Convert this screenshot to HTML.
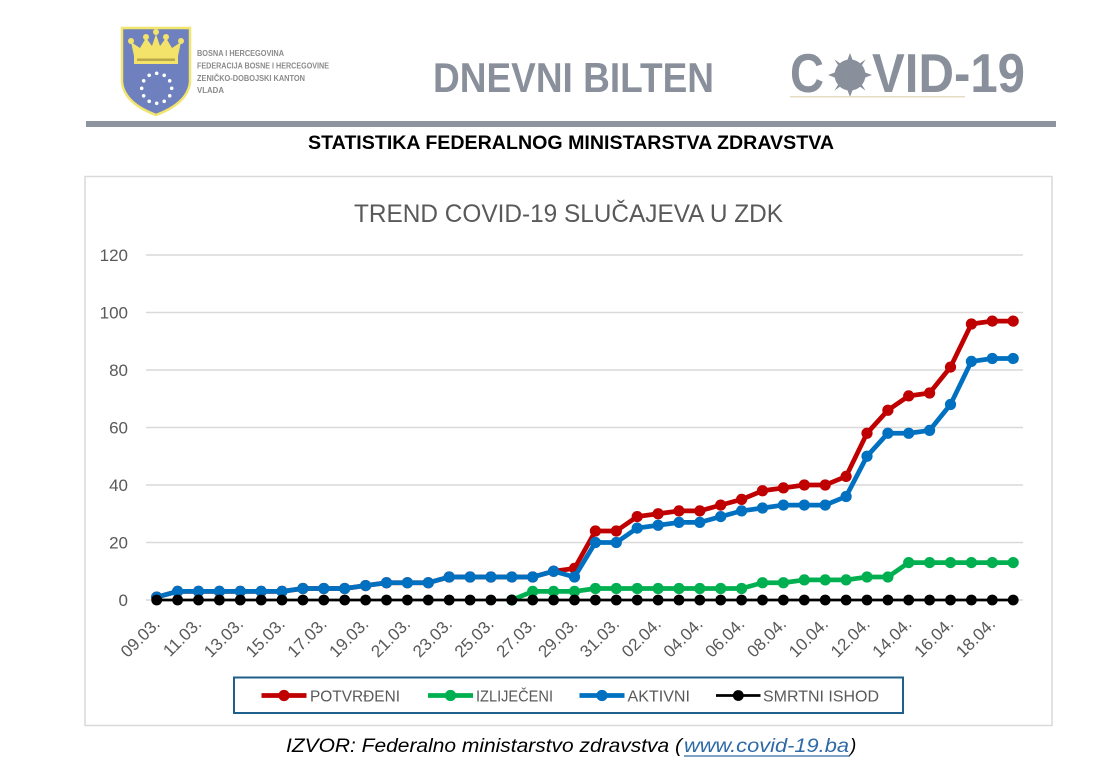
<!DOCTYPE html>
<html>
<head>
<meta charset="utf-8">
<style>
html,body{margin:0;padding:0;background:#fff;}
svg{display:block;}
text{font-family:"Liberation Sans",Arial,sans-serif;}
</style>
</head>
<body>
<svg width="1094" height="773" viewBox="0 0 1094 773" xmlns="http://www.w3.org/2000/svg">
<defs>
  <marker id="mr" markerUnits="userSpaceOnUse" markerWidth="14" markerHeight="14" refX="7" refY="7"><circle cx="7" cy="7" r="5.6" fill="#c00000"/></marker>
  <marker id="mg" markerUnits="userSpaceOnUse" markerWidth="14" markerHeight="14" refX="7" refY="7"><circle cx="7" cy="7" r="5.6" fill="#00b050"/></marker>
  <marker id="mb" markerUnits="userSpaceOnUse" markerWidth="14" markerHeight="14" refX="7" refY="7"><circle cx="7" cy="7" r="5.6" fill="#0070c0"/></marker>
  <marker id="mk" markerUnits="userSpaceOnUse" markerWidth="14" markerHeight="14" refX="7" refY="7"><circle cx="7" cy="7" r="5.4" fill="#000"/></marker>
</defs>
<rect width="1094" height="773" fill="#fff"/>

<!-- Header: shield -->
<path d="M122,28 L190,28 L190,82 Q188,103 156,115 Q124,103 122,82 Z" fill="#6e80bd" stroke="#f2e56e" stroke-width="2.5"/>
<g fill="#f3e36a">
  <rect x="134" y="56" width="44" height="8"/>
  <path d="M134,56 L131,42 L140,48 L146,38 L152,46 L156,34 L160,46 L166,38 L172,48 L181,42 L178,56 Z"/>
  <circle cx="131" cy="41" r="3"/><circle cx="146" cy="37" r="3"/><circle cx="156" cy="32" r="3"/><circle cx="166" cy="37" r="3"/><circle cx="181" cy="41" r="3"/>
</g>
<rect x="137" y="58.5" width="38" height="2.5" fill="#b8a84a"/>
<g fill="#ffffff">
  <circle cx="156.7" cy="73.3" r="1.8"/><circle cx="164.2" cy="75.3" r="1.8"/><circle cx="169.7" cy="80.8" r="1.8"/><circle cx="171.7" cy="88.3" r="1.8"/><circle cx="169.7" cy="95.8" r="1.8"/><circle cx="164.2" cy="101.3" r="1.8"/><circle cx="156.7" cy="103.3" r="1.8"/><circle cx="149.2" cy="101.3" r="1.8"/><circle cx="143.7" cy="95.8" r="1.8"/><circle cx="141.7" cy="88.3" r="1.8"/><circle cx="143.7" cy="80.8" r="1.8"/><circle cx="149.2" cy="75.3" r="1.8"/>
</g>
<g font-weight="bold" font-size="8" fill="#8a8a8a">
  <text x="197" y="56" textLength="87" lengthAdjust="spacingAndGlyphs">BOSNA I HERCEGOVINA</text>
  <text x="197" y="68.5" textLength="132" lengthAdjust="spacingAndGlyphs">FEDERACIJA BOSNE  I HERCEGOVINE</text>
  <text x="197" y="81" textLength="108" lengthAdjust="spacingAndGlyphs">ZENIČKO-DOBOJSKI KANTON</text>
  <text x="197" y="93" textLength="27" lengthAdjust="spacingAndGlyphs">VLADA</text>
</g>
<text x="433" y="92" font-size="42" font-weight="bold" fill="#8a909b" textLength="281" lengthAdjust="spacingAndGlyphs">DNEVNI BILTEN</text>
<text x="790" y="92" font-size="55" font-weight="bold" fill="#8a909b" textLength="34" lengthAdjust="spacingAndGlyphs">C</text>
<g fill="#8a909b">
  <circle cx="850" cy="75" r="15.5"/>
  <path d="M850,53 L853,61 L847,61 Z"/>
  <path d="M850,97 L853,89 L847,89 Z"/>
  <path d="M828,75 L836,72 L836,78 Z"/>
  <path d="M872,75 L864,72 L864,78 Z"/>
  <path d="M834.4,59.4 L841,64 L838.8,66.4 Z"/>
  <path d="M865.6,59.4 L859,64 L861.2,66.4 Z"/>
  <path d="M834.4,90.6 L841,86 L838.8,83.6 Z"/>
  <path d="M865.6,90.6 L859,86 L861.2,83.6 Z"/>
</g>
<text x="872" y="92" font-size="55" font-weight="bold" fill="#8a909b" textLength="153" lengthAdjust="spacingAndGlyphs">VID-19</text>
<line x1="790" y1="96.8" x2="965" y2="96.8" stroke="#e6dcc3" stroke-width="1.5"/>

<rect x="86" y="121" width="970" height="6" fill="#8e949f"/>
<text x="308" y="149" font-size="19" font-weight="bold" fill="#000" textLength="526" lengthAdjust="spacingAndGlyphs">STATISTIKA FEDERALNOG MINISTARSTVA ZDRAVSTVA</text>

<rect x="85" y="176.5" width="967" height="549" fill="#fff" stroke="#d9d9d9" stroke-width="1.5"/>
<text x="354" y="222" font-size="25" fill="#595959" textLength="429" lengthAdjust="spacingAndGlyphs">TREND COVID-19 SLUČAJEVA U ZDK</text>

<g stroke="#d9d9d9" stroke-width="1.5">
  <line x1="146" y1="255" x2="1023" y2="255"/>
  <line x1="146" y1="312.5" x2="1023" y2="312.5"/>
  <line x1="146" y1="370" x2="1023" y2="370"/>
  <line x1="146" y1="427.5" x2="1023" y2="427.5"/>
  <line x1="146" y1="485" x2="1023" y2="485"/>
  <line x1="146" y1="542.5" x2="1023" y2="542.5"/>
  <line x1="146" y1="600" x2="1023" y2="600"/>
</g>
<g font-size="17" fill="#595959" text-anchor="end">
  <text x="128" y="261">120</text>
  <text x="128" y="318.5">100</text>
  <text x="128" y="376">80</text>
  <text x="128" y="433.5">60</text>
  <text x="128" y="491">40</text>
  <text x="128" y="548.5">20</text>
  <text x="128" y="606">0</text>
</g>

<polyline fill="none" stroke="#c00000" stroke-width="4.7" stroke-linejoin="round" marker-start="url(#mr)" marker-mid="url(#mr)" marker-end="url(#mr)" points="156.7,597.1 177.6,591.4 198.5,591.4 219.4,591.4 240.3,591.4 261.2,591.4 282.0,591.4 302.9,588.5 323.8,588.5 344.7,588.5 365.6,585.6 386.5,582.75 407.4,582.75 428.3,582.75 449.2,577 470.1,577 490.9,577 511.8,577 532.7,577 553.6,571.25 574.5,568.4 595.4,531 616.3,531 637.2,516.6 658.1,513.75 679.0,510.9 699.8,510.9 720.7,505.1 741.6,499.4 762.5,490.75 783.4,487.9 804.3,485 825.2,485 846.1,476.4 867.0,433.25 887.9,410.25 908.7,395.9 929.6,393 950.5,367.1 971.4,324 992.3,321.1 1013.2,321.1"/>
<polyline fill="none" stroke="#00b050" stroke-width="4.7" stroke-linejoin="round" marker-start="url(#mg)" marker-mid="url(#mg)" marker-end="url(#mg)" points="511.8,600 532.7,591.4 553.6,591.4 574.5,591.4 595.4,588.5 616.3,588.5 637.2,588.5 658.1,588.5 679.0,588.5 699.8,588.5 720.7,588.5 741.6,588.5 762.5,582.75 783.4,582.75 804.3,579.9 825.2,579.9 846.1,579.9 867.0,577 887.9,577 908.7,562.6 929.6,562.6 950.5,562.6 971.4,562.6 992.3,562.6 1013.2,562.6"/>
<polyline fill="none" stroke="#0070c0" stroke-width="4.7" stroke-linejoin="round" marker-start="url(#mb)" marker-mid="url(#mb)" marker-end="url(#mb)" points="156.7,597.1 177.6,591.4 198.5,591.4 219.4,591.4 240.3,591.4 261.2,591.4 282.0,591.4 302.9,588.5 323.8,588.5 344.7,588.5 365.6,585.6 386.5,582.75 407.4,582.75 428.3,582.75 449.2,577 470.1,577 490.9,577 511.8,577 532.7,577 553.6,571.25 574.5,577 595.4,542.5 616.3,542.5 637.2,528.1 658.1,525.25 679.0,522.4 699.8,522.4 720.7,516.6 741.6,510.9 762.5,508 783.4,505.1 804.3,505.1 825.2,505.1 846.1,496.5 867.0,456.25 887.9,433.25 908.7,433.25 929.6,430.4 950.5,404.5 971.4,361.4 992.3,358.5 1013.2,358.5"/>
<polyline fill="none" stroke="#000" stroke-width="2.8" marker-start="url(#mk)" marker-mid="url(#mk)" marker-end="url(#mk)" points="156.7,600 177.6,600 198.5,600 219.4,600 240.3,600 261.2,600 282.0,600 302.9,600 323.8,600 344.7,600 365.6,600 386.5,600 407.4,600 428.3,600 449.2,600 470.1,600 490.9,600 511.8,600 532.7,600 553.6,600 574.5,600 595.4,600 616.3,600 637.2,600 658.1,600 679.0,600 699.8,600 720.7,600 741.6,600 762.5,600 783.4,600 804.3,600 825.2,600 846.1,600 867.0,600 887.9,600 908.7,600 929.6,600 950.5,600 971.4,600 992.3,600 1013.2,600"/>

<g font-size="17" fill="#595959" text-anchor="end">
  <text x="161" y="625" transform="rotate(-45 161 625)">09.03.</text>
  <text x="202.5" y="625" transform="rotate(-45 202.5 625)">11.03.</text>
  <text x="244.3" y="625" transform="rotate(-45 244.3 625)">13.03.</text>
  <text x="286" y="625" transform="rotate(-45 286 625)">15.03.</text>
  <text x="327.8" y="625" transform="rotate(-45 327.8 625)">17.03.</text>
  <text x="369.6" y="625" transform="rotate(-45 369.6 625)">19.03.</text>
  <text x="411.4" y="625" transform="rotate(-45 411.4 625)">21.03.</text>
  <text x="453.2" y="625" transform="rotate(-45 453.2 625)">23.03.</text>
  <text x="494.9" y="625" transform="rotate(-45 494.9 625)">25.03.</text>
  <text x="536.7" y="625" transform="rotate(-45 536.7 625)">27.03.</text>
  <text x="578.5" y="625" transform="rotate(-45 578.5 625)">29.03.</text>
  <text x="620.3" y="625" transform="rotate(-45 620.3 625)">31.03.</text>
  <text x="662.1" y="625" transform="rotate(-45 662.1 625)">02.04.</text>
  <text x="703.8" y="625" transform="rotate(-45 703.8 625)">04.04.</text>
  <text x="745.6" y="625" transform="rotate(-45 745.6 625)">06.04.</text>
  <text x="787.4" y="625" transform="rotate(-45 787.4 625)">08.04.</text>
  <text x="829.2" y="625" transform="rotate(-45 829.2 625)">10.04.</text>
  <text x="871" y="625" transform="rotate(-45 871 625)">12.04.</text>
  <text x="912.7" y="625" transform="rotate(-45 912.7 625)">14.04.</text>
  <text x="954.5" y="625" transform="rotate(-45 954.5 625)">16.04.</text>
  <text x="996.3" y="625" transform="rotate(-45 996.3 625)">18.04.</text>
</g>

<rect x="234" y="677.5" width="669" height="35.5" fill="#fff" stroke="#1f5f8b" stroke-width="2"/>
<g stroke-width="4.7">
  <line x1="261.5" y1="695.5" x2="306.5" y2="695.5" stroke="#c00000"/>
  <line x1="428" y1="695.5" x2="473" y2="695.5" stroke="#00b050"/>
  <line x1="579.5" y1="695.5" x2="624.5" y2="695.5" stroke="#0070c0"/>
  <line x1="716" y1="695.5" x2="760.5" y2="695.5" stroke="#000" stroke-width="2.8"/>
</g>
<circle cx="284" cy="695.5" r="5.6" fill="#c00000"/>
<circle cx="450.5" cy="695.5" r="5.6" fill="#00b050"/>
<circle cx="602" cy="695.5" r="5.6" fill="#0070c0"/>
<circle cx="738.3" cy="695.5" r="5.4" fill="#000"/>
<g font-size="16" fill="#595959">
  <text x="310" y="701.5" textLength="90" lengthAdjust="spacingAndGlyphs">POTVRĐENI</text>
  <text x="476" y="701.5" textLength="77" lengthAdjust="spacingAndGlyphs">IZLIJEČENI</text>
  <text x="627.5" y="701.5" textLength="62.5" lengthAdjust="spacingAndGlyphs">AKTIVNI</text>
  <text x="763" y="701.5" textLength="116" lengthAdjust="spacingAndGlyphs">SMRTNI ISHOD</text>
</g>

<text y="752" font-size="19" font-style="italic" fill="#000">
  <tspan x="286" textLength="396" lengthAdjust="spacingAndGlyphs">IZVOR: Federalno ministarstvo zdravstva (</tspan><tspan x="684" fill="#2e6aa8" textLength="165" lengthAdjust="spacingAndGlyphs">www.covid-19.ba</tspan><tspan x="850">)</tspan>
</text>
<line x1="684" y1="756" x2="850" y2="756" stroke="#2e6aa8" stroke-width="1.3"/>
</svg>
</body>
</html>
